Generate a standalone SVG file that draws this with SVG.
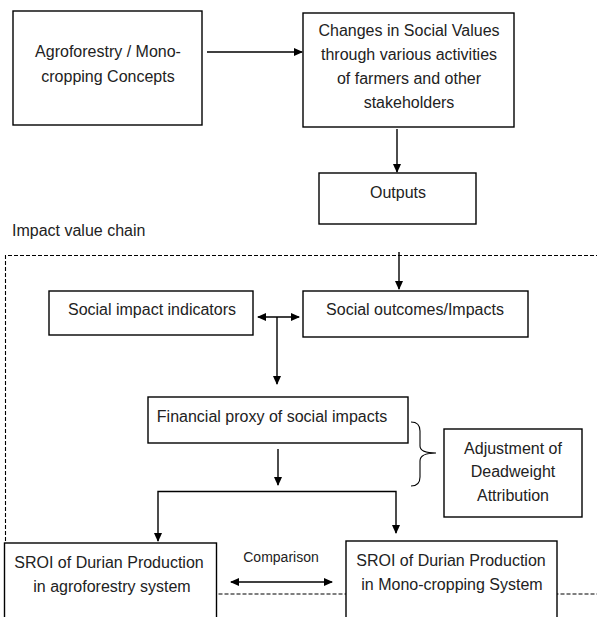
<svg xmlns="http://www.w3.org/2000/svg" width="597" height="617" viewBox="0 0 597 617">
<style>
.box{fill:#fff;stroke:#000;stroke-width:1.4}
.t{font-family:"Liberation Sans",Arial,sans-serif;font-size:16px;fill:#222;text-anchor:middle}
.c{fill:none;stroke:#000;stroke-width:1.4}
.dash{fill:none;stroke:#000;stroke-width:1.1;stroke-dasharray:4 2}
</style>
<defs>
<marker id="ah" markerUnits="userSpaceOnUse" markerWidth="9" markerHeight="8" refX="8" refY="4" orient="auto-start-reverse">
<path d="M0,0 L9,4 L0,8 z" fill="#000"/>
</marker>
</defs>
<rect width="597" height="617" fill="#fff"/>
<text class="t" x="12" y="236" style="text-anchor:start">Impact value chain</text>
<path class="dash" d="M600,255.5 H5.5 V594 H600"/>
<g id="connectors">
<line class="c" x1="207" y1="52" x2="302" y2="52" marker-end="url(#ah)"/>
<line class="c" x1="397" y1="129" x2="397" y2="172" marker-end="url(#ah)"/>
<line class="c" x1="399" y1="252" x2="399" y2="289" marker-end="url(#ah)"/>
<line class="c" x1="258" y1="317" x2="299" y2="317" marker-start="url(#ah)" marker-end="url(#ah)"/>
<line class="c" x1="277" y1="317" x2="277" y2="384" marker-end="url(#ah)"/>
<line class="c" x1="278" y1="449" x2="278" y2="485" marker-end="url(#ah)"/>
<path class="c" d="M158,541 V491.5 H396 V533" marker-start="url(#ah)" marker-end="url(#ah)"/>
<line class="c" x1="231" y1="582" x2="332" y2="582" marker-start="url(#ah)" marker-end="url(#ah)"/>
<path class="c" style="stroke-width:1.1" d="M411,422 Q420,422 420,431 V446 Q420,453 436,453 Q420,453 420,461 V477 Q420,486 411,486"/>
</g>
<g id="n1"><rect class="box" x="13" y="11" width="189" height="114"/>
<text class="t" x="108" y="57">Agroforestry / Mono-</text>
<text class="t" x="108" y="82">cropping Concepts</text></g>
<g id="n2"><rect class="box" x="303" y="13" width="211" height="114"/>
<text class="t" x="409" y="36">Changes in Social Values</text>
<text class="t" x="409" y="60">through various activities</text>
<text class="t" x="409" y="84">of farmers and other</text>
<text class="t" x="409" y="108">stakeholders</text></g>
<g id="n3"><rect class="box" x="319" y="173" width="157" height="51"/>
<text class="t" x="398" y="198">Outputs</text></g>
<g id="n4"><rect class="box" x="49" y="291" width="204" height="44"/>
<text class="t" x="152" y="315">Social impact indicators</text></g>
<g id="n5"><rect class="box" x="303" y="291" width="225" height="46"/>
<text class="t" x="415" y="315">Social outcomes/Impacts</text></g>
<g id="n6"><rect class="box" x="148" y="397" width="260" height="46"/>
<text class="t" x="272" y="422">Financial proxy of social impacts</text></g>
<g id="n7"><rect class="box" x="444" y="429" width="138" height="88"/>
<text class="t" x="513" y="454">Adjustment of</text>
<text class="t" x="513" y="477">Deadweight</text>
<text class="t" x="513" y="501">Attribution</text></g>
<g id="n8"><rect class="box" x="4.5" y="543" width="212" height="80"/>
<text class="t" x="109" y="568">SROI of Durian Production</text>
<text class="t" x="112" y="592">in agroforestry system</text></g>
<g id="n9"><rect class="box" x="346" y="541" width="211" height="82"/>
<text class="t" x="451" y="566">SROI of Durian Production</text>
<text class="t" x="452" y="590">in Mono-cropping System</text></g>
<text class="t" x="281" y="562" style="font-size:14px">Comparison</text>
</svg>
